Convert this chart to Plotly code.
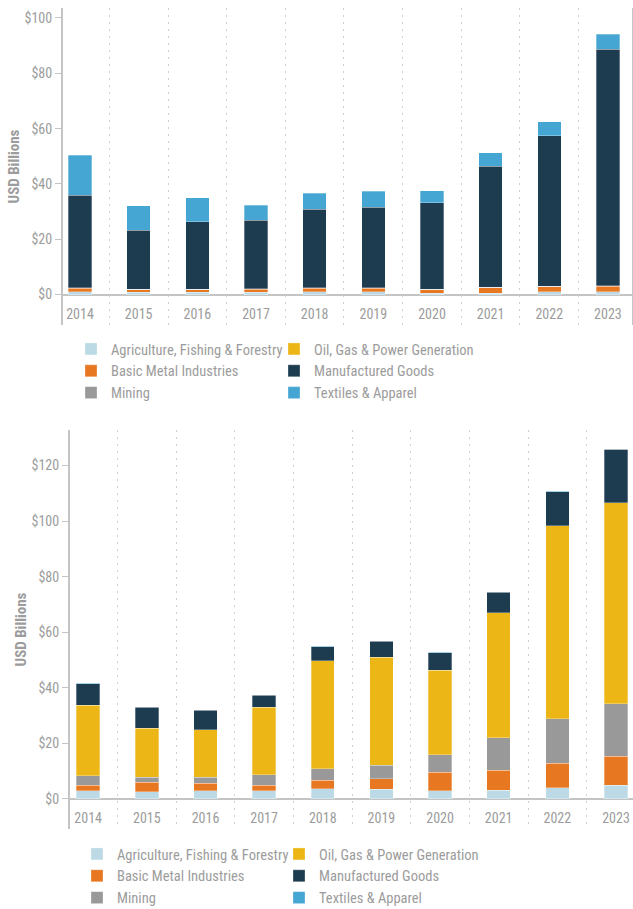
import plotly.graph_objects as go

years = ["2014", "2015", "2016", "2017", "2018", "2019", "2020", "2021", "2022", "2023"]
series_names = ["Agriculture, Fishing & Forestry", "Basic Metal Industries", "Mining",
                "Oil, Gas & Power Generation", "Manufactured Goods", "Textiles & Apparel"]
colors = ["#bcdae5", "#e87722", "#999999", "#ebb616", "#1e3c50", "#46a6d3"]

# Top chart values (USD billions)
top_agri = [1.0, 0.8, 0.9, 0.9, 1.1, 1.0, 0.5, 0.5, 1.0, 1.0]
top_metal = [1.2, 1.0, 0.9, 1.0, 1.1, 1.2, 1.2, 2.0, 1.8, 2.0]
top_mining = [0.3, 0.2, 0.2, 0.2, 0.3, 0.3, 0.2, 0.2, 0.3, 0.2]
top_oil = [0.0, 0.0, 0.0, 0.0, 0.0, 0.0, 0.0, 0.0, 0.0, 0.0]
top_manuf = [33.4, 21.2, 24.4, 24.7, 28.3, 29.0, 31.3, 43.7, 54.4, 85.5]
top_textiles = [14.4, 9.0, 8.6, 5.5, 5.9, 5.9, 4.3, 4.9, 4.9, 5.4]

# Bottom chart values (USD billions)
bot_agri = [3.0, 2.6, 2.9, 3.0, 3.7, 3.5, 2.9, 3.2, 4.0, 4.9]
bot_metal = [2.0, 3.4, 2.7, 1.9, 3.0, 3.8, 6.7, 7.2, 8.8, 10.5]
bot_mining = [3.4, 1.9, 2.3, 3.9, 4.2, 4.9, 6.4, 11.7, 16.0, 18.8]
bot_oil = [25.3, 17.5, 17.1, 24.2, 38.9, 38.9, 30.4, 45.0, 69.6, 72.5]
bot_manuf = [7.8, 7.7, 7.0, 4.4, 5.0, 5.7, 6.3, 7.3, 12.2, 19.1]
bot_textiles = [0.15, 0.15, 0.15, 0.15, 0.15, 0.15, 0.15, 0.15, 0.15, 0.15]

top_series = [top_agri, top_metal, top_mining, top_oil, top_manuf, top_textiles]
bot_series = [bot_agri, bot_metal, bot_mining, bot_oil, bot_manuf, bot_textiles]

FONT = "Roboto Condensed, Roboto, sans-serif"
GRAY_TXT = "#9c9c9c"
AXIS_GRAY = "#c4c4c4"
W, H = 633, 909

fig = go.Figure()

legend_of = [0, 0, 0, 1, 1, 1]  # column 1 / column 2
for i, (name, vals) in enumerate(zip(series_names, top_series)):
    fig.add_trace(go.Bar(
        x=years, y=vals, name=name,
        marker=dict(color=colors[i], line=dict(color="rgba(255,255,255,0.6)", width=0.5)),
        width=0.4, xaxis="x", yaxis="y",
        legend="legend" if legend_of[i] == 0 else "legend2",
    ))
for i, (name, vals) in enumerate(zip(series_names, bot_series)):
    fig.add_trace(go.Bar(
        x=years, y=vals, name=name,
        marker=dict(color=colors[i], line=dict(color="rgba(255,255,255,0.6)", width=0.5)),
        width=0.4, xaxis="x2", yaxis="y2",
        legend="legend3" if legend_of[i] == 0 else "legend4",
    ))

def xaxis_cfg(left, right, rng):
    return dict(
        domain=[left / W, right / W], range=rng, type="category",
        tickson="boundaries", ticks="", showline=False, zeroline=False,
        showgrid=True, gridcolor="#cfcfcf", griddash="2px,5px", gridwidth=1,
        ticklabelposition="inside",
        tickfont=dict(family=FONT, size=14, color=GRAY_TXT),
        fixedrange=True,
    )

def yaxis_cfg(top_px, bot_px, rng, mirror, anchor):
    return dict(
        domain=[1 - bot_px / H, 1 - top_px / H], range=rng, anchor=anchor,
        dtick=20, tick0=0, tickprefix="$",
        ticks="outside", ticklen=6, tickcolor=AXIS_GRAY, tickwidth=1,
        showline=True, linecolor=AXIS_GRAY, linewidth=2, mirror=mirror,
        showgrid=False, zeroline=True, zerolinecolor=AXIS_GRAY, zerolinewidth=2,
        tickfont=dict(family=FONT, size=14, color=GRAY_TXT),
        title=dict(text="<b>USD Billions</b>", font=dict(family=FONT, size=15, color=GRAY_TXT), standoff=1),
        fixedrange=True,
    )

def legend_cfg(x_px, y_px):
    return dict(
        x=x_px / W, y=1 - y_px / H, xanchor="left", yanchor="top",
        orientation="v", traceorder="normal", bgcolor="rgba(0,0,0,0)", borderwidth=0,
        font=dict(family=FONT, size=14.5, color=GRAY_TXT),
        itemclick=False, itemdoubleclick=False, tracegroupgap=0,
    )

fig.update_layout(
    width=W, height=H,
    margin=dict(l=0, r=0, t=0, b=0, autoexpand=False),
    paper_bgcolor="white", plot_bgcolor="white",
    barmode="stack",
    showlegend=True,
    xaxis=dict(xaxis_cfg(63, 632, [-0.29, 9.41]), anchor="y"),
    yaxis=yaxis_cfg(8, 325, [-11.0, 103.6], True, "x"),
    xaxis2=dict(xaxis_cfg(70, 633, [-0.31, 9.29]), anchor="y2"),
    yaxis2=yaxis_cfg(430, 829, [-10.8, 132.8], False, "x2"),
    legend=legend_cfg(71, 333),
    legend2=legend_cfg(274, 333),
    legend3=legend_cfg(77, 838),
    legend4=legend_cfg(279, 838),
)

fig.write_html("out.html")
